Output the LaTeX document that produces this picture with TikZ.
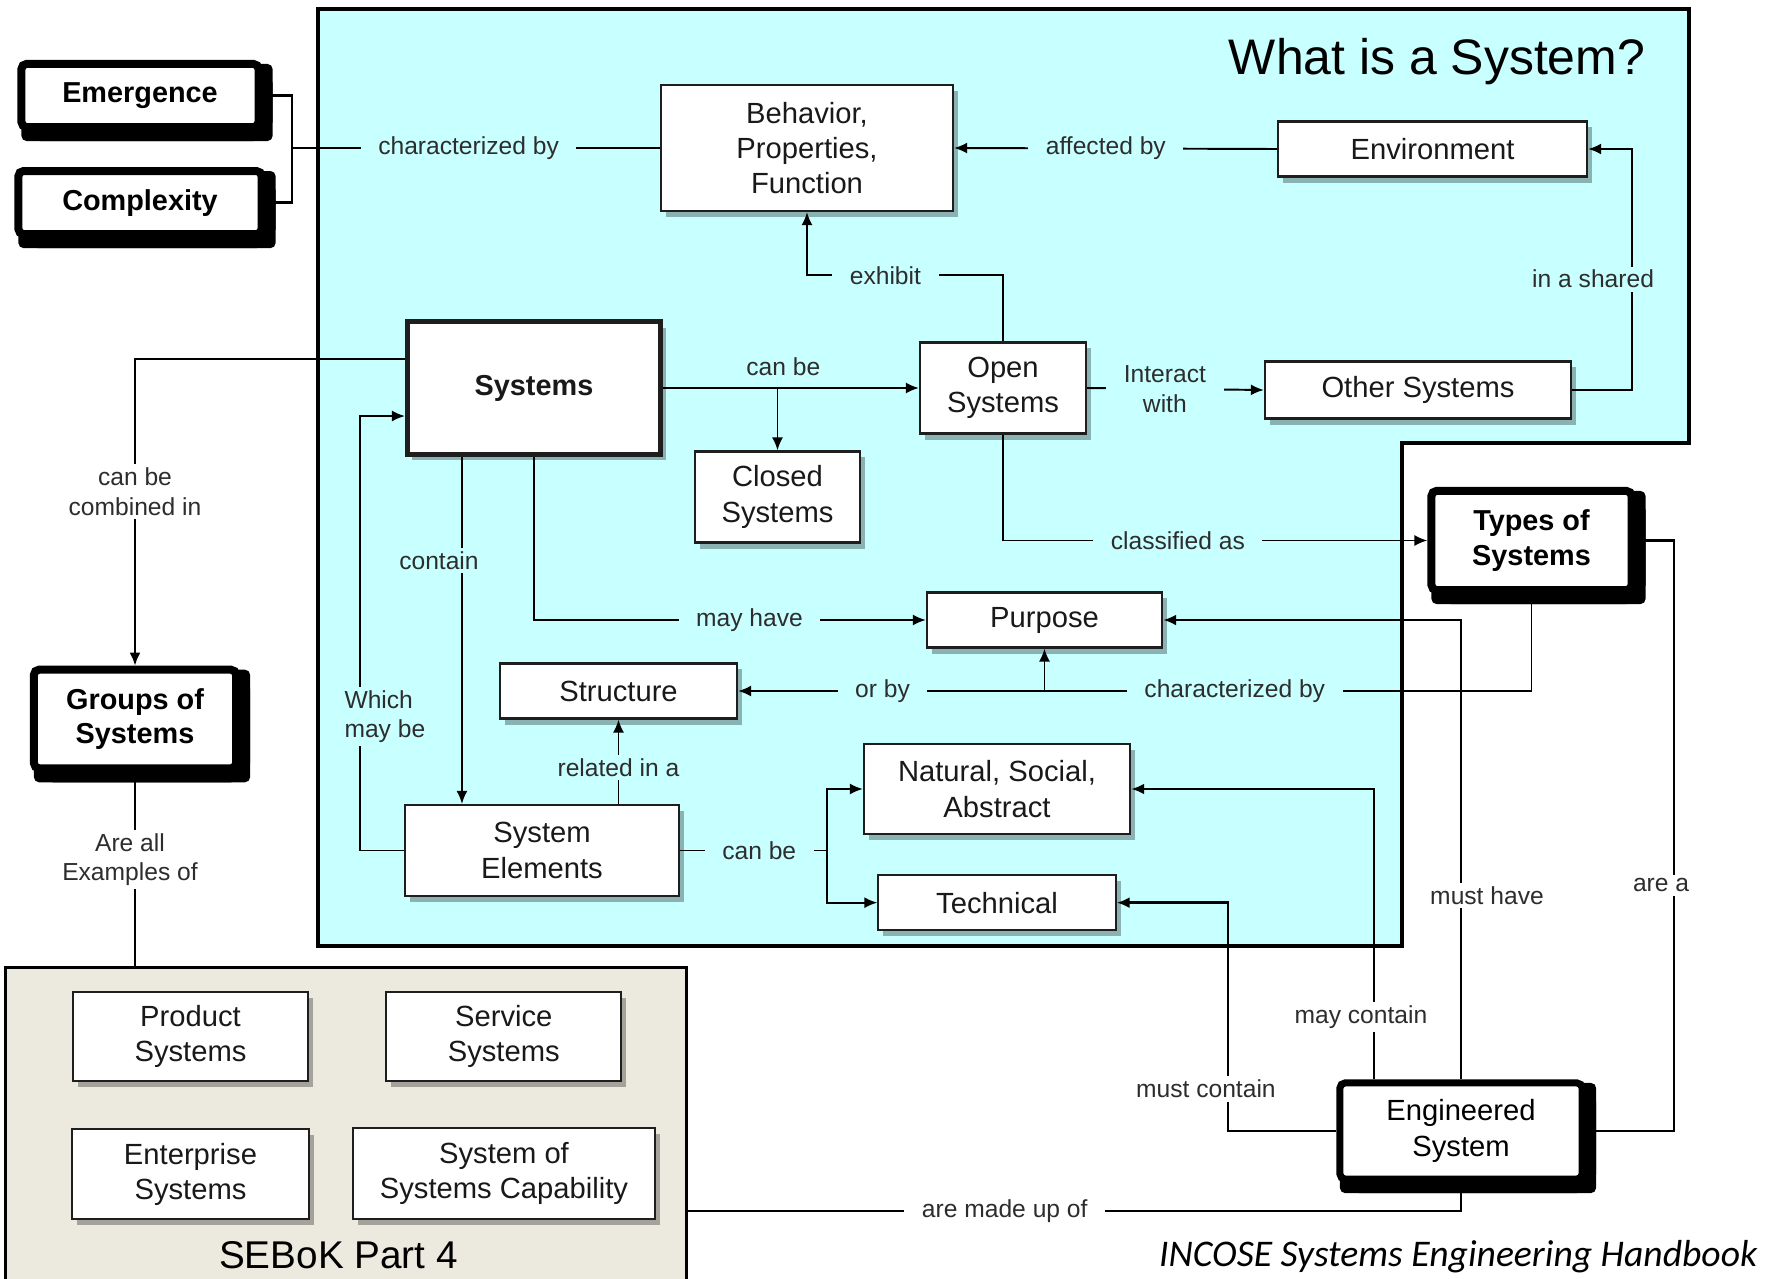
\documentclass[tikz,border=0pt]{standalone}
\usepackage{fontspec}
\setmainfont{Liberation Sans}
\newfontfamily\capfont{Carlito}
\usetikzlibrary{arrows.meta,positioning,shadows}
\definecolor{sysCyan}{RGB}{200,255,255}
\definecolor{sebokTan}{RGB}{236,233,222}
\definecolor{labGray}{RGB}{45,45,45}
\definecolor{boxLine}{RGB}{30,30,30}

\begin{document}
\begin{tikzpicture}[x=0.01cm, y=-0.01cm, ->, >={Latex[length=1.3mm,width=1.1mm]}, line width=0.55pt]
  \tikzstyle{box}=[-, draw=boxLine, line width=0.6pt, fill=white, text=black!90, align=center,
    font=\fontsize{8.3}{10}\selectfont,
    drop shadow={shadow xshift=0.05cm, shadow yshift=-0.06cm, fill=black, opacity=0.3}]
  \tikzstyle{keybox}=[-, draw=black, line width=0.08cm, rounded corners=0.05cm, fill=white, align=center,
    font=\bfseries\fontsize{8.2}{9.8}\selectfont,
    general shadow={fill=black, shadow xshift=0.14cm},
    general shadow={fill=black, shadow yshift=-0.14cm},
    general shadow={fill=black, shadow xshift=0.14cm, shadow yshift=-0.14cm}]
  \tikzstyle{lab}=[fill=sysCyan, text=labGray, font=\fontsize{7}{8.4}\selectfont,
    inner xsep=5pt, inner ysep=1pt, align=center]
  \tikzstyle{labout}=[lab, fill=white]
  \tikzstyle{boldlink}=[line width=0.8pt]

  \useasboundingbox (0,0) rectangle (1781,1279);

  % the "what is a system" area
  \draw[-, fill=sysCyan, line width=0.045cm] (318,9) -- (1689,9) -- (1689,443) -- (1402,443)
    -- (1402,946) -- (318,946) -- cycle;
  \node[font=\fontsize{14.2}{17}\selectfont] (title) at (1437,62) {What is a System?};

  % SEBoK part 4
  \node[-, draw=black, line width=0.03cm, fill=sebokTan, minimum width=6.8cm, minimum height=3.22cm] (sebok) at (346,1129) {};
  \node[font=\fontsize{11}{13}\selectfont] (sebokname) at (338.5,1255) {SEBoK Part 4};
  \node[box, minimum width=2.35cm, minimum height=0.89cm] (product) at (190.5,1036.5) {Product\\Systems};
  \node[box, minimum width=2.35cm, minimum height=0.89cm] (service) [right=0.76cm of product] {Service\\Systems};
  \node[box, minimum width=2.36cm, minimum height=0.9cm] (enterp) [below=0.46cm of product] {Enterprise\\Systems};
  \node[box, minimum width=3.02cm, minimum height=0.91cm] (sos) at (504,1173.5) {System of\\Systems Capability};

  \node[anchor=east, font=\capfont\itshape\fontsize{10.7}{12.8}\selectfont] (source) at (1770,1257)
    {INCOSE Systems Engineering Handbook};

  % heavy framed concepts
  \node[keybox, minimum width=2.37cm, minimum height=0.63cm] (emerg) at (140,95.5) {Emergence};
  \node[keybox, minimum width=2.43cm, minimum height=0.63cm] (complex) [below=0.36cm of emerg] {Complexity};
  \node[keybox, minimum width=2.02cm, minimum height=0.985cm] (groups) at (135,719) {Groups of\\Systems};
  \node[keybox, minimum width=2.0cm, minimum height=0.99cm] (types) at (1531.5,540.5) {Types of\\Systems};
  \node[keybox, line width=0.07cm, minimum width=2.42cm, minimum height=0.96cm,
    font=\fontsize{8.3}{10}\selectfont] (eng) at (1461,1131) {Engineered\\System};

  % boxes inside the area
  \node[box, minimum width=2.92cm, minimum height=1.26cm] (behav) at (807,148) {Behavior,\\Properties,\\Function};
  \node[box, minimum width=3.09cm, minimum height=0.55cm] (env) at (1432.5,149) {Environment};
  \node[box, line width=1.4pt, minimum width=2.53cm, minimum height=1.32cm, font=\bfseries\fontsize{8.2}{10}\selectfont] (sys) at (534,388) {Systems};
  \node[box, minimum width=1.66cm, minimum height=0.91cm] (open) at (1003,388) {Open\\Systems};
  \node[box, minimum width=3.06cm, minimum height=0.57cm] (other) at (1418,390) {Other Systems};
  \node[box, minimum width=1.65cm, minimum height=0.91cm] (closed) at (777.5,497) {Closed\\Systems};
  \node[box, minimum width=2.35cm, minimum height=0.55cm] (purpose) at (1044.5,620) {Purpose};
  \node[box, minimum width=2.37cm, minimum height=0.55cm] (struct) at (618.5,691) {Structure};
  \node[box, minimum width=2.66cm, minimum height=0.9cm] (natural) at (997,789) {Natural, Social,\\Abstract};
  \node[box, minimum width=2.37cm, minimum height=0.55cm] (tech) [below=0.39cm of natural] {Technical};
  \node[box, minimum width=2.74cm, minimum height=0.91cm] (elem) at (542,850.5) {System\\Elements};

  % links inside the area
  \coordinate (brk) at (292,148);
  \draw[-, boldlink] (emerg.east) -| (brk) |- (complex.east);
  \draw[-] (brk) -- node[lab, pos=0.48] {characterized by} (behav.west);
  \draw (env.west) -- node[lab, pos=0.53] {affected by} (behav.east);
  \draw (open.north) -- ++(0,-66) -| node[lab, pos=0.3] {exhibit} (behav.south);
  \draw (sys.east) -- node[lab, above, pos=0.47, yshift=0.08cm] {can be} (open.west);
  \draw (closed.north |- sys.east) -- (closed.north);
  \draw (open.east) -- node[lab, pos=0.44] {Interact\\with} (other.west);
  \draw (other.east) -- ++(60,0) |- node[lab, pos=0.23, xshift=-0.39cm] {in a shared} (env.east);
  \draw (open.south) |- node[lab, pos=0.706] {classified as} (types.west);
  \draw (sys.south) |- node[lab, pos=0.775] {may have} (purpose.west);
  \draw ([xshift=-0.72cm]sys.south) -- node[lab, pos=0.3, xshift=-0.23cm] {contain} ([xshift=-0.72cm]sys.south |- elem.north);
  \draw (elem.west) -- ++(-44,0) |- node[lab, pos=0.154, xshift=0.25cm, align=left] {Which\\may be} ([yshift=-0.28cm]sys.west);
  \draw (struct.south |- elem.north) -- node[lab, pos=0.43] {related in a} (struct.south);
  \draw (elem.east) -- node[lab, pos=0.54] {can be} ++(146.5,0) coordinate (elemfork) |- (natural.west);
  \draw (elemfork) |- (tech.west);
  \draw (types.south) |- node[lab, pos=0.687] {characterized by} node[lab, pos=0.909] {or by} (struct.east);
  \draw (purpose.south |- struct.east) -- (purpose.south);

  % links outside the area
  \draw[boldlink] ([yshift=0.29cm]sys.west) -| node[labout, pos=0.716] {can be\\combined in} (groups.north);
  \draw[-, boldlink] (groups.south) -- node[labout, pos=0.45, xshift=-0.05cm] {Are all\\Examples of} (groups.south |- sebok.north);
  \draw[boldlink] (eng.north) |- node[labout, pos=0.2, xshift=0.26cm] {must have} (purpose.east);
  \draw[boldlink] ([xshift=-0.87cm]eng.north) |- node[labout, pos=0.107, xshift=-0.13cm] {may contain} (natural.east);
  \draw[boldlink] (eng.west) -- ++(-108.5,0) |- node[labout, pos=0.092, xshift=-0.22cm] {must contain} (tech.east);
  \draw[-, boldlink] (eng.east) -- ++(88.5,0) |- node[labout, pos=0.208, xshift=-0.13cm] {are a} (types.east);
  \draw[-, boldlink] (eng.south) |- node[labout, pos=0.795] {are made up of} ([yshift=-0.82cm]sebok.east);
\end{tikzpicture}
\end{document}
